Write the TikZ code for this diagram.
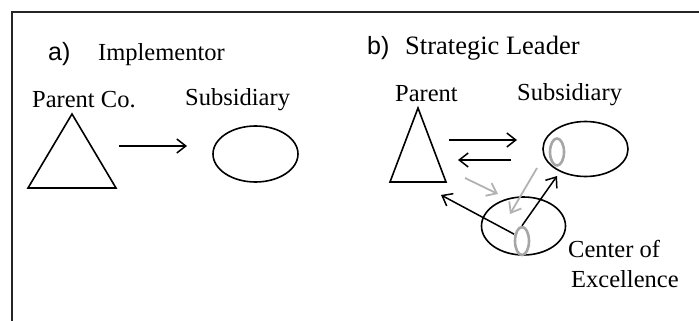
\documentclass[tikz,border=0pt]{standalone}
\usepackage{fontspec}
\setmainfont{Liberation Serif}
\newfontfamily\labfont{Liberation Sans}
\usetikzlibrary{arrows.meta,shapes.geometric}
\begin{document}
\begin{tikzpicture}[x=1pt,y=-1pt,
  txt/.style={inner sep=0pt,anchor=base west,font=\fontsize{24.5}{28}\selectfont},
  lab/.style={inner sep=0pt,anchor=base west,font=\labfont\fontsize{25}{28}\selectfont},
  shp/.style={draw=black,line width=1.6pt},
  oval/.style={shp,ellipse,inner sep=0pt},
  zero/.style={draw=gray!70,line width=2.6pt,ellipse,inner sep=0pt,minimum width=14pt,minimum height=27pt},
  conn/.style={line width=1.5pt,-{Straight Barb[length=9pt,width=14pt]}},
  gconn/.style={line width=1.8pt,draw=gray!60,-{Straight Barb[length=9pt,width=14pt]}}]
\useasboundingbox (0,0) rectangle (699,321);
% frame
\draw[line width=2pt,draw=black!85] (12,321) -- (12,12) -- (699,12);
% panel a
\node[lab] (la) at (48,60) {a)};
\node[txt] (ta) at (98,61) {Implementor};
\node[txt] (pa) at (32,107) {Parent Co.};
\node[txt] (sa) at (185,106) {Subsidiary};
\coordinate (triA1) at (72,114);
\coordinate (triA2) at (28,188);
\coordinate (triA3) at (116,188);
\draw[shp,line join=miter] (triA1) -- (triA2) -- (triA3) -- cycle;
\node[oval,minimum width=85pt,minimum height=56pt] (ellA) at (255.5,154) {};
\coordinate (aS) at (119,146);
\coordinate (aE) at (187,146);
\draw[conn] (aS) -- (aE);
% panel b
\node[lab] (lb) at (367,55) {b)};
\node[txt,font=\fontsize{26.5}{30}\selectfont] (tb) at (405,55) {Strategic Leader};
\node[txt] (pb) at (395,102) {Parent};
\node[txt] (sb) at (517,100) {Subsidiary};
\node[txt] (cb1) at (568,257) {Center of};
\node[txt] (cb2) at (571,287) {Excellence};
\coordinate (triB1) at (418,108);
\coordinate (triB2) at (390,182);
\coordinate (triB3) at (446,182);
\draw[shp,line join=miter] (triB1) -- (triB2) -- (triB3) -- cycle;
\node[oval,minimum width=85pt,minimum height=55pt] (ellB) at (585.5,149) {};
\node[oval,minimum width=84pt,minimum height=58pt] (ellC) at (523.5,226) {};
\node[zero] (zB) at (557,152) {};
\node[zero,minimum height=28pt] (zC) at (522,241) {};
\coordinate (b1S) at (449,140);
\coordinate (b1E) at (517,140);
\coordinate (b2S) at (511,160);
\coordinate (b2E) at (458,160);
\coordinate (g1S) at (465,178);
\coordinate (g1E) at (498,194);
\coordinate (g2S) at (537,168);
\coordinate (g2E) at (510,214);
\coordinate (k1E) at (441,195);
\coordinate (k2E) at (557,176);
\draw[conn] (b1S) -- (b1E);
\draw[conn] (b2S) -- (b2E);
\draw[gconn] (g1S) -- (g1E);
\draw[gconn] (g2S) -- (g2E);
\draw[conn] (zC.north west) ++(-2,4) -- (k1E);
\draw[conn] (zC.north) -- (k2E);
\end{tikzpicture}
\end{document}
